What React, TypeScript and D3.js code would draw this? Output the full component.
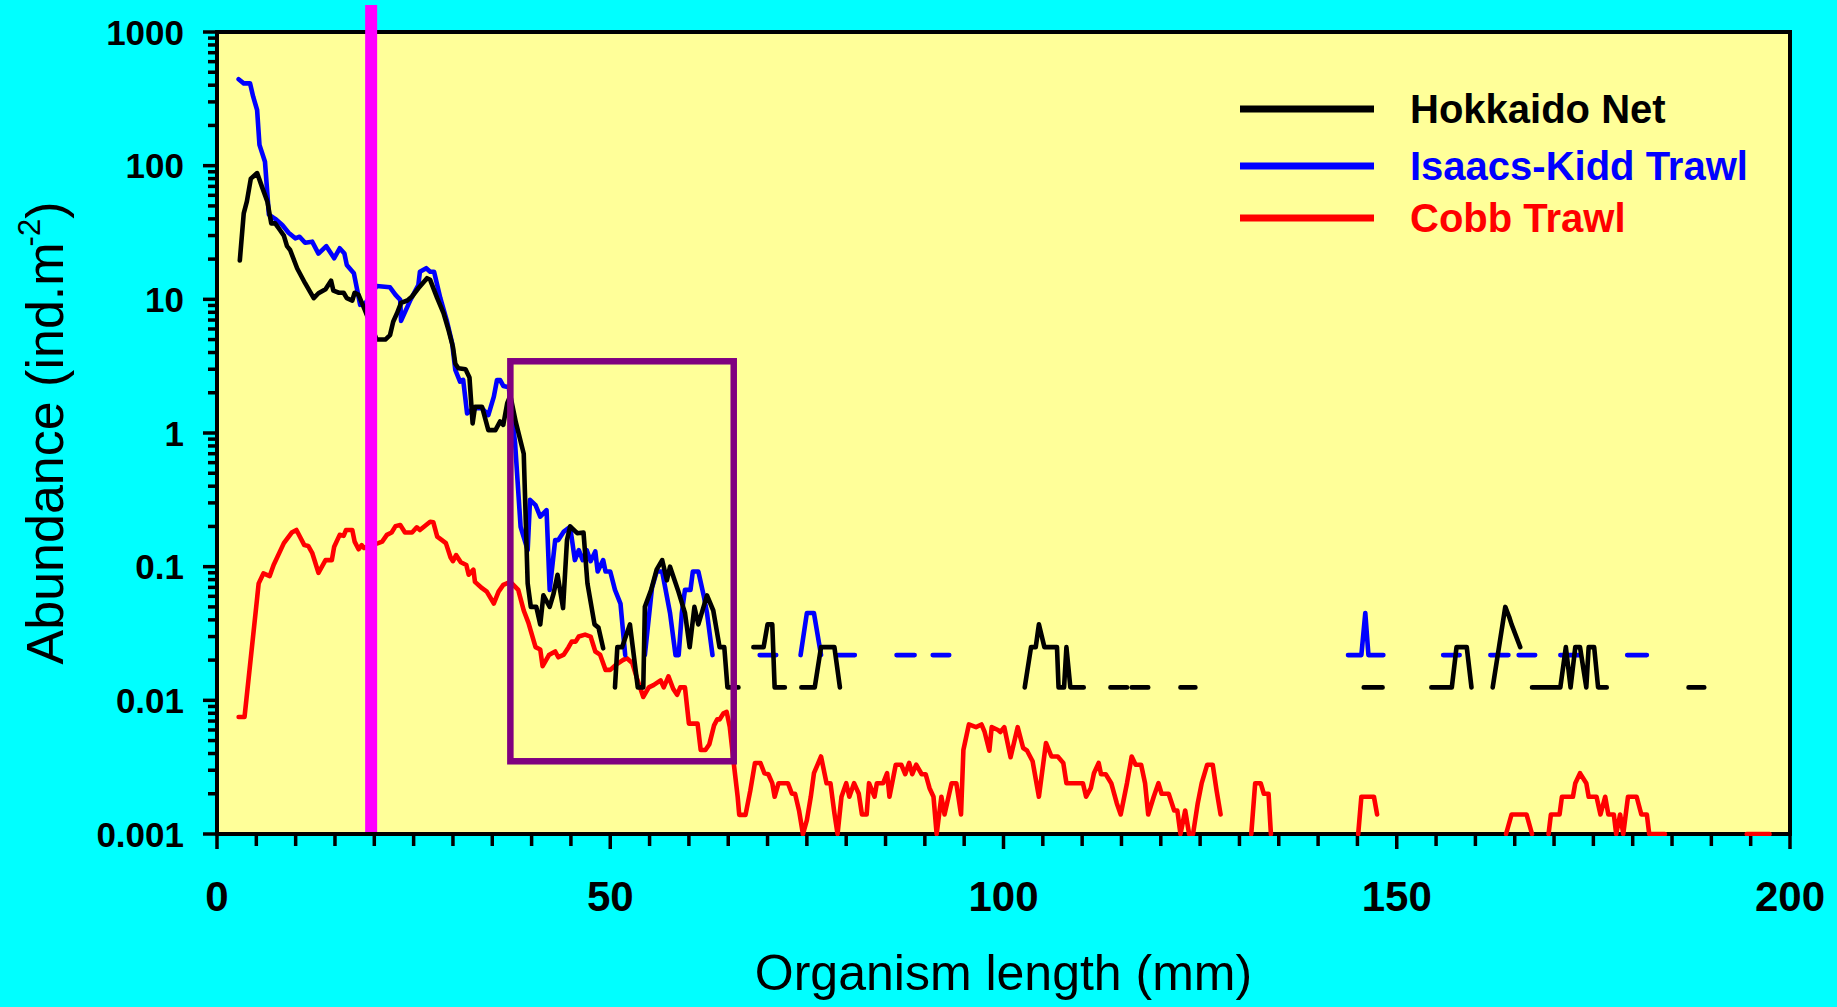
import React, { useRef, useEffect } from 'react';
import * as d3 from 'd3';

type Pt = [number, number | null];

// organism length (mm) vs abundance (ind.m-2); null = gap (zero catch)
const hokkaidoNet: Pt[] = [
  [2.9, 19.5], [3.4, 44], [3.8, 54], [4.3, 80], [5.1, 88], [5.7, 70], [6.4, 54], [6.9, 37], [7.4, 37],
  [8.0, 33], [8.5, 30], [8.9, 25], [9.3, 23.4], [10.2, 17], [11.2, 13.2], [12.3, 10.2], [12.9, 11.1],
  [13.8, 11.9], [14.5, 13.8], [14.8, 11.6], [15.5, 11.2], [16.1, 11.2], [16.5, 10.2], [17.2, 9.8],
  [17.5, 11.2], [18.0, 10.8], [18.7, 8.6], [20.3, 5.0], [21.4, 5.0], [22.0, 5.4], [22.4, 6.8], [22.9, 7.9],
  [23.4, 9.4], [24.2, 9.8], [24.8, 10.5], [25.6, 12.1], [26.7, 14.4], [27.1, 14], [28.0, 10.2], [28.8, 7.9],
  [29.4, 6.0], [30.0, 4.4], [30.3, 3.3], [30.7, 3.05], [31.6, 3.0], [32.1, 2.6], [32.5, 1.18], [32.8, 1.57],
  [33.7, 1.57], [34.5, 1.05], [35.4, 1.05], [36.0, 1.22], [36.4, 1.15], [36.9, 1.67], [37.3, 1.9], [38.0, 1.2],
  [39.0, 0.7], [39.5, 0.075], [39.9, 0.05], [40.6, 0.05], [41.1, 0.037], [41.5, 0.061], [42.3, 0.05],
  [42.8, 0.063], [43.3, 0.087], [44.0, 0.049], [44.5, 0.158], [44.9, 0.2], [45.8, 0.178], [46.6, 0.18],
  [47.1, 0.075], [48.0, 0.037], [48.5, 0.035], [49.1, 0.0245], [49.8, null],
  [50.6, 0.0125], [50.9, 0.025], [51.5, 0.025], [52.5, 0.037], [53.5, 0.0125], [54.2, 0.0125], [54.4, 0.05],
  [55.2, 0.067], [55.9, 0.095], [56.6, 0.112], [57.2, 0.079], [57.6, 0.1], [58.6, 0.067], [59.5, 0.045],
  [60.1, 0.025], [60.7, 0.05], [61.2, 0.037], [62.3, 0.061], [63.1, 0.047], [63.9, 0.025], [64.5, 0.025],
  [64.9, 0.0125], [66.3, 0.0125], [67.0, null],
  [68.2, 0.025], [69.5, 0.025], [70.0, 0.037], [70.6, 0.037], [70.9, 0.0125], [72.2, 0.0125], [73.0, null],
  [74.3, 0.0125], [76.0, 0.0125], [76.8, 0.025], [78.5, 0.025], [79.2, 0.0125], [80.0, null],
  [102.7, 0.0125], [103.5, 0.025], [104.1, 0.025], [104.5, 0.037], [105.2, 0.025], [106.8, 0.025],
  [107.0, 0.0125], [107.7, 0.0125], [108.0, 0.025], [108.5, 0.0125], [110.2, 0.0125], [111.0, null],
  [113.6, 0.0125], [115.7, 0.0125], [116.0, null], [116.3, 0.0125], [118.4, 0.0125], [119.0, null],
  [122.5, 0.0125], [124.4, 0.0125], [125.0, null], [145.8, 0.0125], [148.2, 0.0125], [149.0, null],
  [154.4, 0.0125], [157.0, 0.0125], [157.6, 0.025], [158.9, 0.025], [159.5, 0.0125], [160.0, null],
  [162.2, 0.0125], [163.8, 0.05], [164.3, 0.042], [164.6, 0.037], [165.7, 0.025], [166.5, null],
  [167.2, 0.0125], [170.8, 0.0125], [171.5, 0.025], [172.1, 0.0125], [172.7, 0.025], [173.3, 0.025],
  [174.1, 0.0125], [174.4, 0.025], [175.1, 0.025], [175.6, 0.0125], [176.7, 0.0125], [177.5, null],
  [187.1, 0.0125], [189.1, 0.0125],
];

const isaacsKiddTrawl: Pt[] = [
  [2.75, 443], [3.4, 413], [4.2, 413], [4.6, 328], [5.1, 261], [5.4, 143], [6.1, 107], [6.6, 43], [7.4, 40],
  [8.3, 36], [9.1, 31.5], [9.95, 28.6], [10.5, 29.4], [11.2, 26.5], [12.1, 27], [12.9, 22], [13.9, 25],
  [14.9, 20.3], [15.6, 24.1], [16.2, 22], [16.5, 18.1], [17.4, 15.7], [18.2, 9.1], [18.85, 9.3], [20.3, 12.6],
  [22.0, 12.3], [22.7, 10.8], [23.3, 9.9], [23.4, 6.9], [24.6, 9.9], [25.6, 12.8], [25.8, 16.1], [26.6, 17.1],
  [27.1, 16.1], [27.6, 16.1], [28.4, 10.2], [29.2, 7.0], [29.9, 4.7], [30.3, 2.96], [30.9, 2.42], [31.3, 2.5],
  [31.8, 1.4], [32.6, 1.53], [33.7, 1.53], [34.5, 1.36], [35.2, 1.87], [35.6, 2.49], [36.0, 2.49], [36.4, 2.25],
  [37.1, 2.2], [37.9, 0.84], [38.6, 0.199], [39.5, 0.133], [39.8, 0.316], [40.5, 0.289], [41.1, 0.237],
  [41.9, 0.265], [42.3, 0.067], [43.0, 0.158], [43.4, 0.158], [44.1, 0.183], [44.9, 0.199], [45.5, 0.112],
  [46.0, 0.133], [46.5, 0.112], [47.0, 0.133], [47.5, 0.11], [48.1, 0.13], [48.4, 0.092], [49.1, 0.112],
  [49.4, 0.092], [50.0, 0.092], [50.6, 0.067], [51.3, 0.053], [51.9, 0.0218], [53.0, null],
  [54.4, 0.0218], [55.3, 0.069], [55.9, 0.092], [56.6, 0.092], [57.6, 0.045], [58.3, 0.0218], [58.7, 0.0218],
  [59.1, 0.045], [59.5, 0.067], [60.2, 0.067], [60.5, 0.092], [61.2, 0.092], [61.9, 0.06], [62.3, 0.045],
  [63.0, 0.0218], [64.0, null],
  [69.0, 0.0218], [71.1, 0.0218], [72.0, null],
  [74.2, 0.0218], [75.0, 0.045], [75.9, 0.045], [76.8, 0.0218], [77.5, null],
  [79.0, 0.0218], [81.1, 0.0218], [82.0, null], [86.4, 0.0218], [88.7, 0.0218], [89.5, null],
  [91.0, 0.0218], [93.1, 0.0218], [94.0, null],
  [143.8, 0.0218], [145.5, 0.0218], [146.0, 0.045], [146.4, 0.0218], [148.3, 0.0218], [149.0, null],
  [155.9, 0.0218], [158.0, 0.0218], [159.0, null], [161.9, 0.0218], [164.2, 0.0218], [164.8, null],
  [165.5, 0.0218], [167.6, 0.0218], [168.5, null], [170.8, 0.0218], [173.3, 0.0218], [174.0, null],
  [179.3, 0.0218], [181.8, 0.0218],
];

const cobbTrawl: Pt[] = [
  [2.75, 0.0075], [3.5, 0.0075], [5.3, 0.075], [5.9, 0.089], [6.7, 0.085], [7.2, 0.103], [8.5, 0.15],
  [9.5, 0.18], [10.1, 0.188], [11.1, 0.145], [11.6, 0.143], [12.1, 0.127], [12.9, 0.09], [13.8, 0.112],
  [14.6, 0.112], [14.9, 0.141], [15.6, 0.173], [16.1, 0.17], [16.4, 0.188], [17.2, 0.188], [17.5, 0.154],
  [18.0, 0.135], [18.4, 0.145], [18.7, 0.138], [20.5, 0.15], [21.0, 0.154], [21.6, 0.173], [22.2, 0.18],
  [22.7, 0.201], [23.3, 0.205], [23.9, 0.18], [24.8, 0.18], [25.4, 0.197], [25.8, 0.188], [27.1, 0.217],
  [27.5, 0.215], [28.0, 0.168], [28.6, 0.158], [29.1, 0.15], [29.7, 0.117], [30.0, 0.11], [30.4, 0.122],
  [31.0, 0.108], [31.7, 0.103], [32.0, 0.087], [32.6, 0.095], [32.8, 0.077], [33.7, 0.069], [34.3, 0.065],
  [35.2, 0.053], [35.8, 0.065], [36.4, 0.073], [37.3, 0.077], [38.3, 0.067], [39.0, 0.047], [39.6, 0.038],
  [40.5, 0.025], [41.1, 0.024], [41.4, 0.018], [42.2, 0.0218], [43.0, 0.0232], [43.4, 0.021], [44.1, 0.022],
  [44.7, 0.025], [45.1, 0.0275], [45.6, 0.0275], [46.0, 0.03], [46.8, 0.031], [47.5, 0.03], [48.1, 0.0232],
  [48.7, 0.022], [49.4, 0.0169], [50.0, 0.0169], [50.8, 0.0186], [51.6, 0.02], [52.1, 0.0207], [52.8, 0.019],
  [53.4, 0.0146], [54.2, 0.0106], [54.9, 0.0125], [55.5, 0.013], [56.4, 0.0141], [56.8, 0.0125],
  [57.4, 0.0151], [58.0, 0.0122], [58.5, 0.011], [58.9, 0.0125], [59.5, 0.0125], [60.0, 0.0067],
  [61.1, 0.0067], [61.5, 0.00425], [62.1, 0.00425], [62.6, 0.0047], [63.2, 0.0065], [63.6, 0.0072],
  [63.9, 0.0072], [64.4, 0.008], [64.8, 0.0082], [65.2, 0.0063], [65.7, 0.0034], [66.2, 0.0019],
  [66.4, 0.00139], [67.2, 0.00139], [67.8, 0.0021], [68.4, 0.0034], [69.1, 0.0034], [69.6, 0.00285],
  [70.1, 0.0028], [70.6, 0.0024], [70.9, 0.0019], [71.4, 0.0024], [72.6, 0.0024], [73.1, 0.002],
  [73.5, 0.002], [74.0, 0.0015], [74.5, 0.001], [75.0, 0.00127], [75.5, 0.0019], [75.9, 0.00285],
  [76.8, 0.0038], [77.5, 0.0024], [78.0, 0.0024], [78.5, 0.00143], [78.9, 0.001], [79.4, 0.0019],
  [80.0, 0.0024], [80.4, 0.0019], [81.0, 0.0024], [81.6, 0.002], [82.0, 0.0014], [82.6, 0.0014],
  [82.9, 0.0024], [83.6, 0.0019], [83.9, 0.0024], [84.7, 0.0024], [85.2, 0.00285], [85.5, 0.0019],
  [86.3, 0.0033], [87.0, 0.0033], [87.5, 0.0028], [88.0, 0.0034], [88.4, 0.0028], [88.9, 0.0033],
  [89.6, 0.0028], [90.1, 0.0028], [90.6, 0.0022], [91.1, 0.0019], [91.5, 0.001], [92.1, 0.0019],
  [92.5, 0.0014], [93.4, 0.0024], [94.0, 0.0024], [94.6, 0.0014], [94.9, 0.00425], [95.6, 0.0066],
  [96.5, 0.0063], [97.2, 0.0066], [97.6, 0.0058], [98.2, 0.0042], [98.5, 0.0063], [99.3, 0.006],
  [99.6, 0.0058], [100.1, 0.0063], [100.9, 0.00375], [101.8, 0.0063], [102.5, 0.0044], [103.0, 0.0042],
  [103.7, 0.0035], [104.5, 0.0019], [105.4, 0.0048], [106.1, 0.0038], [106.9, 0.0038], [107.6, 0.0034],
  [108.0, 0.0024], [110.1, 0.0024], [110.5, 0.0019], [111.1, 0.0022], [111.5, 0.00285], [112.1, 0.0034],
  [112.4, 0.0028], [113.0, 0.0028], [113.7, 0.0024], [114.4, 0.0017], [114.9, 0.0014], [115.7, 0.0024],
  [116.3, 0.0038], [116.8, 0.0033], [117.5, 0.0033], [118.0, 0.0024], [118.4, 0.0014], [119.1, 0.0019],
  [119.7, 0.0024], [120.1, 0.002], [121.0, 0.002], [121.7, 0.0015], [122.1, 0.0015], [122.5, 0.001],
  [123.1, 0.0015], [123.6, 0.001], [124.1, 0.001], [124.7, 0.0017], [125.2, 0.0024], [125.9, 0.0033],
  [126.6, 0.0033], [127.1, 0.0021], [127.6, 0.0014], [128.5, null],
  [131.5, 0.001], [132.0, 0.0024], [132.7, 0.0024], [133.1, 0.002], [133.7, 0.002], [134.0, 0.001], [135.0, null],
  [145.1, 0.001], [145.5, 0.0019], [147.1, 0.0019], [147.5, 0.0014], [148.5, null],
  [163.9, 0.001], [164.6, 0.0014], [166.5, 0.0014], [167.2, 0.001], [168.0, null],
  [169.3, 0.001], [169.6, 0.0014], [170.7, 0.0014], [171.0, 0.0019], [172.4, 0.0019], [172.7, 0.0024],
  [173.3, 0.00285], [174.1, 0.0024], [174.4, 0.0019], [175.4, 0.0019], [175.9, 0.0014], [176.5, 0.0019],
  [176.9, 0.0014], [177.6, 0.0014], [177.9, 0.001], [178.4, 0.0014], [178.8, 0.001], [179.4, 0.0019],
  [180.5, 0.0019], [181.1, 0.0014], [181.8, 0.0014], [182.1, 0.001], [184.1, 0.001], [185.0, null],
  [194.5, 0.001], [197.4, 0.001],
];

const seriesNames = ['Hokkaido Net', 'Isaacs-Kidd Trawl', 'Cobb Trawl'];
const seriesColors = ['#000000', '#0000FF', '#FF0000'];
const yTickLabels = ['0.001', '0.01', '0.1', '1', '10', '100', '1000'];
const xTickLabels = [0, 50, 100, 150, 200];

// annotations: size cut-off line and highlighted window
const cutoffLength = 19.6;
const boxLength = [37.3, 65.7];
const boxAbundance = [0.0035, 3.44];

const FONT = '"Liberation Sans", Arial, Helvetica, sans-serif';

const Chart = ({ width = 1837, height = 1007 }) => {
  const svgRef = useRef<SVGSVGElement | null>(null);

  useEffect(() => {
    if (!svgRef.current) return;
    const svg = d3.select(svgRef.current);
    svg.selectAll('*').remove();

    const left = 217, right = 1790, top = 32, bottom = 834;

    const x = d3.scaleLinear().domain([0, 200]).range([left, right]);
    const y = d3.scaleLog().domain([0.001, 1000]).range([bottom, top]);

    // page background
    svg.append('rect').attr('width', width).attr('height', height).attr('fill', '#00FFFF');

    // plot area
    svg.append('rect')
      .attr('x', left).attr('y', top)
      .attr('width', right - left).attr('height', bottom - top)
      .attr('fill', '#FFFF99')
      .attr('stroke', '#000').attr('stroke-width', 4);

    // y ticks
    const yg = svg.append('g');
    for (let k = -3; k <= 3; k++) {
      const base = Math.pow(10, k);
      yg.append('line')
        .attr('x1', left - 14).attr('x2', left)
        .attr('y1', y(base)).attr('y2', y(base))
        .attr('stroke', '#000').attr('stroke-width', 3.5);
      yg.append('text')
        .attr('x', left - 33).attr('y', y(base))
        .attr('dy', '0.36em')
        .attr('text-anchor', 'end')
        .attr('font-family', FONT).attr('font-weight', 'bold').attr('font-size', 35)
        .attr('fill', '#000')
        .text(yTickLabels[k + 3]);
      if (k < 3) {
        for (let m = 2; m <= 9; m++) {
          yg.append('line')
            .attr('x1', left - 9).attr('x2', left)
            .attr('y1', y(m * base)).attr('y2', y(m * base))
            .attr('stroke', '#000').attr('stroke-width', 3.5);
        }
      }
    }

    // x ticks
    const xg = svg.append('g');
    d3.range(0, 201, 5).forEach(v => {
      const major = v % 50 === 0;
      xg.append('line')
        .attr('x1', x(v)).attr('x2', x(v))
        .attr('y1', bottom).attr('y2', bottom + (major ? 15 : 12))
        .attr('stroke', '#000').attr('stroke-width', 3.5);
    });
    xTickLabels.forEach(v => {
      xg.append('text')
        .attr('x', x(v)).attr('y', 911)
        .attr('text-anchor', 'middle')
        .attr('font-family', FONT).attr('font-weight', 'bold').attr('font-size', 42)
        .attr('fill', '#000')
        .text(v);
    });

    // axis titles
    svg.append('text')
      .attr('x', (left + right) / 2).attr('y', 990)
      .attr('text-anchor', 'middle')
      .attr('font-family', FONT).attr('font-size', 50)
      .attr('fill', '#000')
      .text('Organism length (mm)');

    const yt = svg.append('text')
      .attr('transform', `translate(63, ${(top + bottom) / 2}) rotate(-90)`)
      .attr('text-anchor', 'middle')
      .attr('font-family', FONT).attr('font-size', 52)
      .attr('fill', '#000');
    yt.append('tspan').text('Abundance (ind.m');
    yt.append('tspan').attr('font-size', 31).attr('dx', -4).attr('dy', -23).text('-2');
    yt.append('tspan').attr('dy', 23).text(')');

    // data lines
    svg.append('clipPath').attr('id', 'plot-clip')
      .append('rect')
      .attr('x', left).attr('y', top - 2)
      .attr('width', right - left).attr('height', bottom - top + 4);

    const line = d3.line<Pt>()
      .defined(d => d[1] !== null)
      .x(d => x(d[0]))
      .y(d => y(d[1] as number));

    const lg = svg.append('g').attr('clip-path', 'url(#plot-clip)');
    [cobbTrawl, isaacsKiddTrawl, hokkaidoNet].forEach((data, i) => {
      const color = seriesColors[2 - i];
      lg.append('path')
        .datum(data)
        .attr('d', line)
        .attr('fill', 'none')
        .attr('stroke', color)
        .attr('stroke-width', 4.6)
        .attr('stroke-linejoin', 'round')
        .attr('stroke-linecap', 'round');
    });

    // highlighted window
    svg.append('rect')
      .attr('x', x(boxLength[0])).attr('y', y(boxAbundance[1]))
      .attr('width', x(boxLength[1]) - x(boxLength[0]))
      .attr('height', y(boxAbundance[0]) - y(boxAbundance[1]))
      .attr('fill', 'none')
      .attr('stroke', '#800080')
      .attr('stroke-width', 6.5);

    // size cut-off line
    svg.append('line')
      .attr('x1', x(cutoffLength)).attr('x2', x(cutoffLength))
      .attr('y1', 5).attr('y2', bottom - 2)
      .attr('stroke', '#FF00FF')
      .attr('stroke-width', 12);

    // legend
    const legY = [109, 166, 218];
    seriesNames.forEach((name, i) => {
      svg.append('line')
        .attr('x1', 1240).attr('x2', 1374)
        .attr('y1', legY[i]).attr('y2', legY[i])
        .attr('stroke', seriesColors[i])
        .attr('stroke-width', 7);
      svg.append('text')
        .attr('x', 1410).attr('y', legY[i] + 14)
        .attr('font-family', FONT).attr('font-weight', 'bold').attr('font-size', 40)
        .attr('fill', seriesColors[i])
        .text(name);
    });
  }, [width, height]);

  return (
    <svg
      ref={svgRef}
      width={width}
      height={height}
      style={{ position: 'absolute', left: 0, top: 0, display: 'block' }}
    ></svg>
  );
};

export default function App() {
  return <Chart />;
}
